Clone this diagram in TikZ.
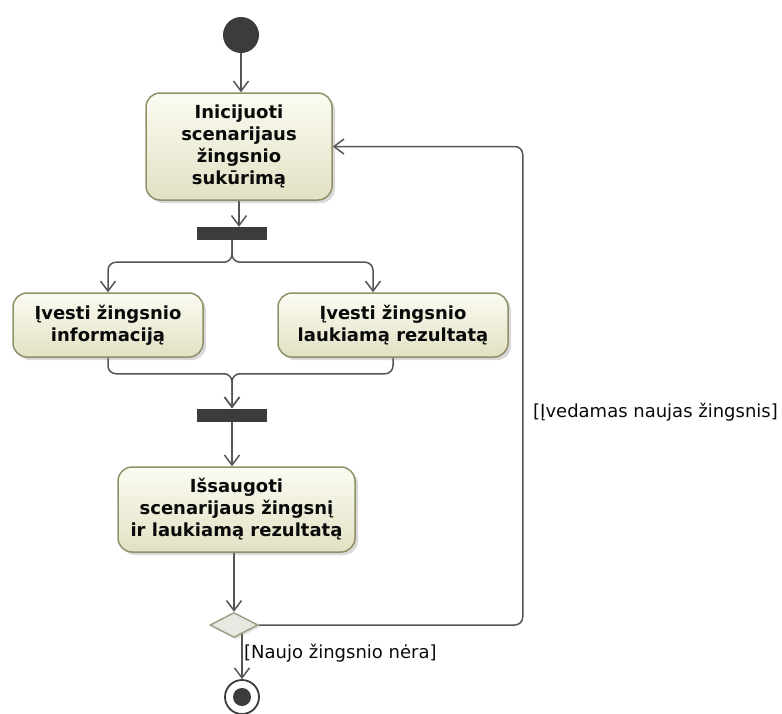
\documentclass[tikz,border=0pt]{standalone}
\usepackage{fontspec}
\setmainfont{DejaVu Sans}
\usetikzlibrary{arrows.meta,shapes.geometric,shadows,backgrounds,calc}
\definecolor{actfill}{RGB}{226,225,196}
\definecolor{actlight}{RGB}{251,251,242}
\definecolor{actborder}{RGB}{145,145,105}
\definecolor{barcol}{RGB}{60,60,60}
\definecolor{flowcol}{RGB}{85,85,85}
\definecolor{decfill}{RGB}{232,232,226}
\definecolor{decborder}{RGB}{155,155,132}
\definecolor{txt}{RGB}{10,10,10}

\begin{document}
\begin{tikzpicture}[x=1pt,y=-1pt,
  action/.style={rectangle, rounded corners=14pt, draw=actborder, line width=1.5pt,
    top color=actlight, bottom color=actfill, align=center, text=txt,
    font=\bfseries\fontsize{18}{22}\selectfont, inner sep=0pt,
    drop shadow={shadow xshift=3pt, shadow yshift=-3pt, opacity=0.3}},
  bar/.style={rectangle, fill=barcol, minimum width=70pt, minimum height=13pt, inner sep=0pt},
  initial/.style={circle, fill=barcol, minimum size=36pt, inner sep=0pt},
  final/.style={circle, draw=barcol, line width=1.8pt, fill=white, minimum size=34pt, inner sep=0pt,
    path picture={\fill[barcol] (path picture bounding box.center) circle (9pt);}},
  decision/.style={diamond, draw=decborder, line width=1.4pt, fill=decfill, minimum width=48pt,
    minimum height=25pt, inner sep=0pt,
    drop shadow={shadow xshift=2pt, shadow yshift=-2pt, opacity=0.25}},
  guard/.style={font=\fontsize{18}{22}\selectfont, text=txt, inner sep=0pt},
  flow/.style={draw=flowcol, line width=1.5pt, -{Straight Barb[length=10pt,width=15pt]}},
]
\useasboundingbox (0,0) rectangle (782,713);

% activity nodes
\node[initial] (ini) at (241,35) {};
\node[action, minimum width=186pt, minimum height=107pt] (a1) at (239,146.5)
  {Inicijuoti\\scenarijaus\\žingsnio\\sukūrimą};
\node[bar] (fork) at (232,233.5) {};
\node[action, minimum width=190pt, minimum height=64pt] (a2) at (108,325)
  {Įvesti žingsnio\\informaciją};
\node[action, minimum width=230pt, minimum height=64pt] (a3) at (393,325)
  {Įvesti žingsnio\\laukiamą rezultatą};
\node[bar] (join) at (232,415) {};
\node[action, minimum width=237pt, minimum height=85pt] (a4) at (236.5,509.5)
  {Išsaugoti\\scenarijaus žingsnį\\ir laukiamą rezultatą};
\node[decision] (dec) at (234,625) {};
\node[final] (fin) at (242,697) {};

% guards
\node[guard, anchor=west] (g1) at (533,412) {[Įvedamas naujas žingsnis]};
\node[guard, anchor=west] (g2) at (244,653) {[Naujo žingsnio nėra]};

% control flows
\begin{scope}[on background layer]
\draw[flow] (ini.south) -- (a1.north -| ini);
\draw[flow] (a1.south) -- (a1.south |- fork.north);
\draw[flow, rounded corners=8pt] (fork.south) -- ++(0,22) -| (a2.north);
\draw[flow, rounded corners=8pt] (fork.south) -- ++(0,22) -| ([xshift=-20pt]a3.north);
\draw[flow, rounded corners=8pt] (a2.south) -- ++(0,16) -| (join.north);
\draw[flow, rounded corners=8pt] (a3.south) -- ++(0,16) -| (join.north);
\draw[flow] (join.south) -- (a4.north -| join);
\draw[flow] (a4.south -| dec) -- (dec.north);
\draw[flow, rounded corners=8pt] (dec.east) -| ($(a1.east)+(190,0)$) -- (a1.east);
\draw[flow] (dec.center -| fin) -- (fin.north);
\end{scope}
\end{tikzpicture}
\end{document}
